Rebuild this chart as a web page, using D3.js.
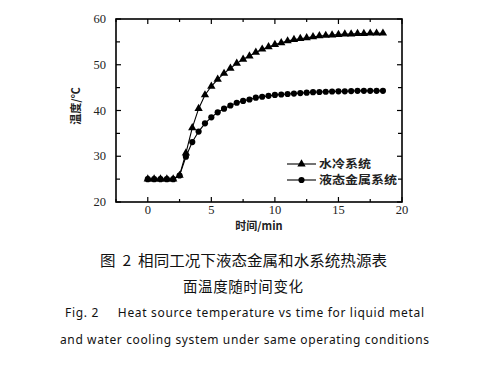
<!DOCTYPE html>
<html><head><meta charset="utf-8">
<script src="https://cdn.jsdelivr.net/npm/d3@7/dist/d3.min.js"></script>
<style>body{margin:0;background:#fff}svg{display:block}text.pre{white-space:pre}text.num{font-family:"Liberation Serif","Times New Roman","DejaVu Serif",serif}</style>
</head><body>
<svg id="c" width="484" height="368"></svg>
<script>
const times = [0,0.5,1,1.5,2,2.5,3,3.5,4,4.5,5,5.5,6,6.5,7,7.5,8,8.5,9,9.5,10,10.5,11,11.5,12,12.5,13,13.5,14,14.5,15,15.5,16,16.5,17,17.5,18,18.5];
const waterCooling = [25,25,25,25,25,25.8,30.7,36.2,40.4,43.4,45.3,46.8,48.1,49.2,50.3,51.2,51.9,52.7,53.4,53.9,54.4,54.8,55.2,55.5,55.7,55.9,56.1,56.3,56.4,56.5,56.6,56.7,56.7,56.8,56.8,56.9,56.9,56.9];
const liquidMetal = [25,25,25,25,25,25.8,29.9,33.1,35.4,37.2,38.5,39.6,40.4,41.1,41.7,42.1,42.4,42.8,43.0,43.2,43.4,43.5,43.6,43.7,43.8,43.9,44.0,44.05,44.1,44.15,44.2,44.2,44.25,44.3,44.3,44.3,44.3,44.3];
const seriesNames = ["水冷系统","液态金属系统"];
const xTicks = [0,5,10,15,20];
const yTicks = [20,30,40,50,60];
const xLabel = "时间/min";
const yLabel = "温度/℃";
const captionCN = ["图  2  相同工况下液态金属和水系统热源表","面温度随时间变化"];
const captionEN = ["Fig. 2     Heat source temperature vs time for liquid metal","and water cooling system under same operating conditions"];

const svg = d3.select("#c");
const L=116, R=402, T=19, B=202;
const x = d3.scaleLinear().domain([-2.5,20]).range([L,R]);
const y = d3.scaleLinear().domain([20,60]).range([B,T]);
const cjk = "Noto Sans CJK SC, sans-serif";

// ticks (inward, mirrored)
const g = svg.append("g");
d3.range(-2.5,20.01,2.5).forEach(v=>{
  const maj = xTicks.includes(v);
  const len = maj?5:3;
  g.append("line").attr("x1",x(v)).attr("x2",x(v)).attr("y1",B).attr("y2",B-len).attr("stroke","#000").attr("stroke-width",1.2);
  g.append("line").attr("x1",x(v)).attr("x2",x(v)).attr("y1",T).attr("y2",T+len).attr("stroke","#000").attr("stroke-width",1.2);
});
d3.range(20,60.01,5).forEach(v=>{
  const maj = yTicks.includes(v);
  const len = maj?5:4;
  g.append("line").attr("x1",L).attr("x2",L+len).attr("y1",y(v)).attr("y2",y(v)).attr("stroke","#000").attr("stroke-width",1.2);
  g.append("line").attr("x1",R).attr("x2",R-len).attr("y1",y(v)).attr("y2",y(v)).attr("stroke","#000").attr("stroke-width",1.2);
});
svg.append("rect").attr("x",L).attr("y",T).attr("width",R-L).attr("height",B-T)
  .attr("fill","none").attr("stroke","#000").attr("stroke-width",1.6);

xTicks.forEach(v=>{
  svg.append("text").attr("class","num").attr("x",x(v)).attr("y",B+12).attr("text-anchor","middle")
    .attr("font-size",12.5).attr("fill","#222").text(v);
});
yTicks.forEach(v=>{
  svg.append("text").attr("class","num").attr("x",L-10).attr("y",y(v)+4).attr("text-anchor","end")
    .attr("font-size",12.5).attr("fill","#222").text(v);
});
svg.append("text").attr("x",259).attr("y",230).attr("text-anchor","middle")
  .style("font-family",cjk).attr("font-size",11).attr("font-weight","bold").attr("fill","#222").text(xLabel);
svg.append("text").attr("transform","translate(80,106) rotate(-90)").attr("text-anchor","middle")
  .style("font-family",cjk).attr("font-size",11).attr("font-weight","bold").attr("fill","#222").text(yLabel);

// lines
const line = d3.line().x((d,i)=>x(times[i])).y(d=>y(d));
svg.append("path").attr("d",line(waterCooling)).attr("fill","none").attr("stroke","#000").attr("stroke-width",1.1);
svg.append("path").attr("d",line(liquidMetal)).attr("fill","none").attr("stroke","#000").attr("stroke-width",1.1);
const tri = d3.symbol().type(d3.symbolTriangle).size(30);
const cir = d3.symbol().type(d3.symbolCircle).size(30);
waterCooling.forEach((d,i)=>{
  svg.append("path").attr("d",tri()).attr("transform",`translate(${x(times[i])},${y(d)})`).attr("fill","#000");
});
liquidMetal.forEach((d,i)=>{
  svg.append("path").attr("d",cir()).attr("transform",`translate(${x(times[i])},${y(d)})`).attr("fill","#000");
});

// legend
[[tri,164,52],[cir,180,78]].forEach(([sym,ly,w],k)=>{
  svg.append("line").attr("x1",287).attr("x2",316).attr("y1",ly).attr("y2",ly).attr("stroke","#000").attr("stroke-width",1.1);
  svg.append("path").attr("d",sym()).attr("transform",`translate(301.5,${ly})`).attr("fill","#000");
  svg.append("text").attr("x",319).attr("y",ly+4).attr("textLength",w).attr("lengthAdjust","spacingAndGlyphs")
    .style("font-family",cjk).attr("font-size",11)
    .attr("font-weight","bold").attr("fill","#222").text(seriesNames[k]);
});

// captions
svg.append("text").attr("class","pre").attr("x",100).attr("y",266).attr("textLength",287).attr("lengthAdjust","spacingAndGlyphs")
  .style("font-family",cjk).attr("font-size",14.5).attr("fill","#111").text(captionCN[0]);
svg.append("text").attr("x",183).attr("y",292).attr("textLength",120).attr("lengthAdjust","spacing")
  .style("font-family",cjk).attr("font-size",14.5).attr("fill","#111").text(captionCN[1]);
svg.append("text").attr("class","pre").attr("x",65).attr("y",317).attr("textLength",359).attr("lengthAdjust","spacing")
  .style("font-family","Noto Sans, sans-serif").attr("font-size",12).attr("fill","#111").text(captionEN[0]);
svg.append("text").attr("x",60).attr("y",344).attr("textLength",369).attr("lengthAdjust","spacing")
  .style("font-family","Noto Sans, sans-serif").attr("font-size",12).attr("fill","#111").text(captionEN[1]);
</script>
</body></html>
